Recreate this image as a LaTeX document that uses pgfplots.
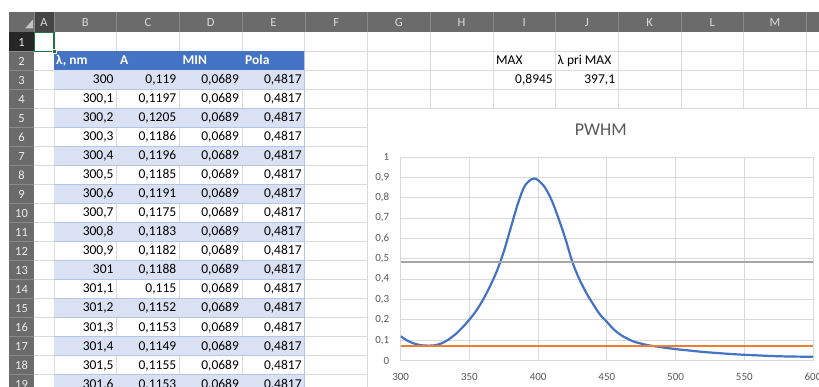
\documentclass[border=0pt]{standalone}
\usepackage{pgfplots}
\pgfplotsset{compat=1.18}
\usepackage{pgfplotstable}
\usepackage{fontspec}
\setmainfont{Carlito}

\definecolor{hdr}{HTML}{6B6B6B}
\definecolor{hdrsel}{HTML}{454545}
\definecolor{rowsel}{HTML}{262626}
\definecolor{hdrtxt}{HTML}{D9D9D9}
\definecolor{hdrline}{HTML}{8A8A8A}
\definecolor{sheetgrid}{HTML}{DADADA}
\definecolor{tblue}{HTML}{4472C4}
\definecolor{band}{HTML}{D9E1F2}
\definecolor{bandline}{HTML}{B4C6E7}
\definecolor{xlgreen}{HTML}{217346}
\definecolor{sblue}{HTML}{4472C4}
\definecolor{sorange}{HTML}{ED7D31}
\definecolor{sgray}{HTML}{A5A5A5}
\definecolor{cgrid}{HTML}{D9D9D9}
\definecolor{ctext}{HTML}{595959}

\pgfplotstableread{
x y
300 0.119
305 0.097
310 0.083
315 0.075
320 0.073
325 0.075
330 0.085
335 0.104
340 0.130
345 0.163
350 0.201
355 0.245
360 0.300
365 0.365
370 0.440
375 0.535
380 0.650
385 0.765
390 0.855
395 0.890
397.1 0.8945
400 0.886
405 0.850
410 0.785
415 0.695
420 0.595
425 0.482
430 0.400
435 0.333
440 0.277
445 0.226
450 0.190
455 0.153
460 0.126
465 0.107
470 0.092
475 0.083
480 0.075
490 0.065
500 0.056
510 0.049
520 0.042
530 0.037
540 0.032
550 0.028
560 0.025
570 0.022
580 0.020
590 0.019
600 0.018
}\Adata

\newcommand\cellfont{\fontsize{13.5}{16}\selectfont}
\newcommand\trow[3]{%
  \node[anchor=base east] at (113.7,{32.5+19*#1-5.5}) {#2};
  \node[anchor=base east] at (176.4,{32.5+19*#1-5.5}) {#3};
  \node[anchor=base east] at (239.1,{32.5+19*#1-5.5}) {0,0689};
  \node[anchor=base east] at (301.8,{32.5+19*#1-5.5}) {0,4817};
}

\begin{document}
\begin{tikzpicture}
\useasboundingbox (0,0) rectangle (819pt,-387pt);
\clip (0,0) rectangle (819pt,-387pt);
\begin{scope}[x=1pt,y=-1pt]
  \fill[white] (0,0) rectangle (819,387);
  % sheet gridlines
  \foreach \c in {54,116.7,179.4,242.1,304.8,367.5,430.2,492.9,555.6,618.3,681,743.7,806.4}
    \draw[sheetgrid, line width=0.8pt] (\c,32.5) -- (\c,387);
  \foreach \n in {1,...,19}
    \draw[sheetgrid, line width=0.8pt] (34,{32.5+19*\n}) -- (819,{32.5+19*\n});
  % table
  \fill[tblue] (54,51.5) rectangle (304.8,70.5);
  \foreach \n in {3,5,...,19}
    \fill[band] (54,{32.5+19*(\n-1)}) rectangle (304.8,{32.5+19*\n});
  \foreach \n in {3,...,19}
    \draw[bandline, line width=0.8pt] (54,{32.5+19*\n}) -- (304.8,{32.5+19*\n});
  \draw[bandline, line width=0.8pt] (304.8,51.5) -- (304.8,387);
  \begin{scope}[every node/.style={inner sep=0pt, font=\cellfont}]
    \node[anchor=base west, text=white, font=\cellfont\bfseries] at (56,65) {λ, nm};
    \node[anchor=base west, text=white, font=\cellfont\bfseries] at (120,65) {A};
    \node[anchor=base west, text=white, font=\cellfont\bfseries] at (182.4,65) {MIN};
    \node[anchor=base west, text=white, font=\cellfont\bfseries] at (245,65) {Pola};
    \trow{3}{300}{0,119}
    \trow{4}{300,1}{0,1197}
    \trow{5}{300,2}{0,1205}
    \trow{6}{300,3}{0,1186}
    \trow{7}{300,4}{0,1196}
    \trow{8}{300,5}{0,1185}
    \trow{9}{300,6}{0,1191}
    \trow{10}{300,7}{0,1175}
    \trow{11}{300,8}{0,1183}
    \trow{12}{300,9}{0,1182}
    \trow{13}{301}{0,1188}
    \trow{14}{301,1}{0,115}
    \trow{15}{301,2}{0,1152}
    \trow{16}{301,3}{0,1153}
    \trow{17}{301,4}{0,1149}
    \trow{18}{301,5}{0,1155}
    \trow{19}{301,6}{0,1153}
    \node[anchor=base west] at (496,65) {MAX};
    \node[anchor=base west] at (557.5,65) {λ pri MAX};
    \node[anchor=base east] at (553,84) {0,8945};
    \node[anchor=base east] at (615.3,84) {397,1};
  \end{scope}
  % headers
  \fill[hdr] (9,12) rectangle (819,32.5);
  \fill[hdrsel] (34,12) rectangle (54,32.5);
  \fill[hdr] (9,32.5) rectangle (34,387);
  \fill[rowsel] (9,32.5) rectangle (34,51.5);
  \fill[hdrtxt!80!hdr] (25,28.5) -- (33,28.5) -- (33,19.5) -- cycle;
  \foreach \c in {34,54,116.7,179.4,242.1,304.8,367.5,430.2,492.9,555.6,618.3,681,743.7,806.4}
    \draw[hdrline, line width=0.6pt] (\c,12) -- (\c,32.5);
  \foreach \n in {1,...,19}
    \draw[hdrline, line width=0.6pt] (9,{32.5+19*\n}) -- (34,{32.5+19*\n});
  \foreach \l/\c in {A/44,B/85.35,C/148,D/210.75,E/273.45,F/336.15,G/398.85,H/461.55,I/524.25,J/586.95,K/649.65,L/712.35,M/775.05}
    \node[anchor=base, inner sep=0pt, text=hdrtxt, font=\fontsize{12.5}{14}\selectfont] at (\c,26.7) {\l};
  \foreach \n in {1,...,19}
    \node[anchor=base, inner sep=0pt, text=white!92!black, font=\fontsize{12.5}{14}\selectfont] at (21.5,{32.5+19*\n-5}) {\n};
  % selected cell
  \draw[xlgreen, line width=1.5pt] (34.5,32.5) rectangle (54,51.5);
  \fill[xlgreen, draw=white, line width=0.6pt] (52,49.5) rectangle (56,53.5);
  % chart area
  \fill[white, draw=cgrid, line width=0.8pt] (367.5,108.5) rectangle (830,400);
  \node[anchor=base, inner sep=0pt, text=ctext, font=\fontsize{18}{21}\selectfont] at (600.8,136) {PWHM};
\end{scope}
\begin{axis}[
  at={(400.7pt,-360.5pt)}, anchor=south west,
  scale only axis, width=412.3pt, height=203.5pt,
  xmin=300, xmax=600, ymin=0, ymax=1,
  xtick={300,350,400,450,500,550,600},
  ytick={0,0.1,0.2,0.3,0.4,0.5,0.6,0.7,0.8,0.9,1},
  grid=major,
  major grid style={draw=cgrid, line width=0.8pt},
  axis line style={draw=cgrid, line width=0.8pt},
  major tick length=0pt,
  tick label style={font=\fontsize{11}{13}\selectfont, text=ctext},
  xticklabel style={yshift=-9pt},
  yticklabel style={xshift=-8pt, /pgf/number format/fixed, /pgf/number format/precision=1},
  /pgf/number format/use comma,
  /pgf/number format/1000 sep={},
  /pgf/number format/assume math mode=true,
]
\addplot[sblue, line width=2.2pt, smooth, no markers] table[x=x, y=y] {\Adata};
\addplot[sorange, line width=2pt, no markers] coordinates {(300,0.0689) (600,0.0689)};
\addplot[sgray, line width=2pt, no markers] coordinates {(300,0.4817) (600,0.4817)};
\end{axis}
\end{tikzpicture}
\end{document}
